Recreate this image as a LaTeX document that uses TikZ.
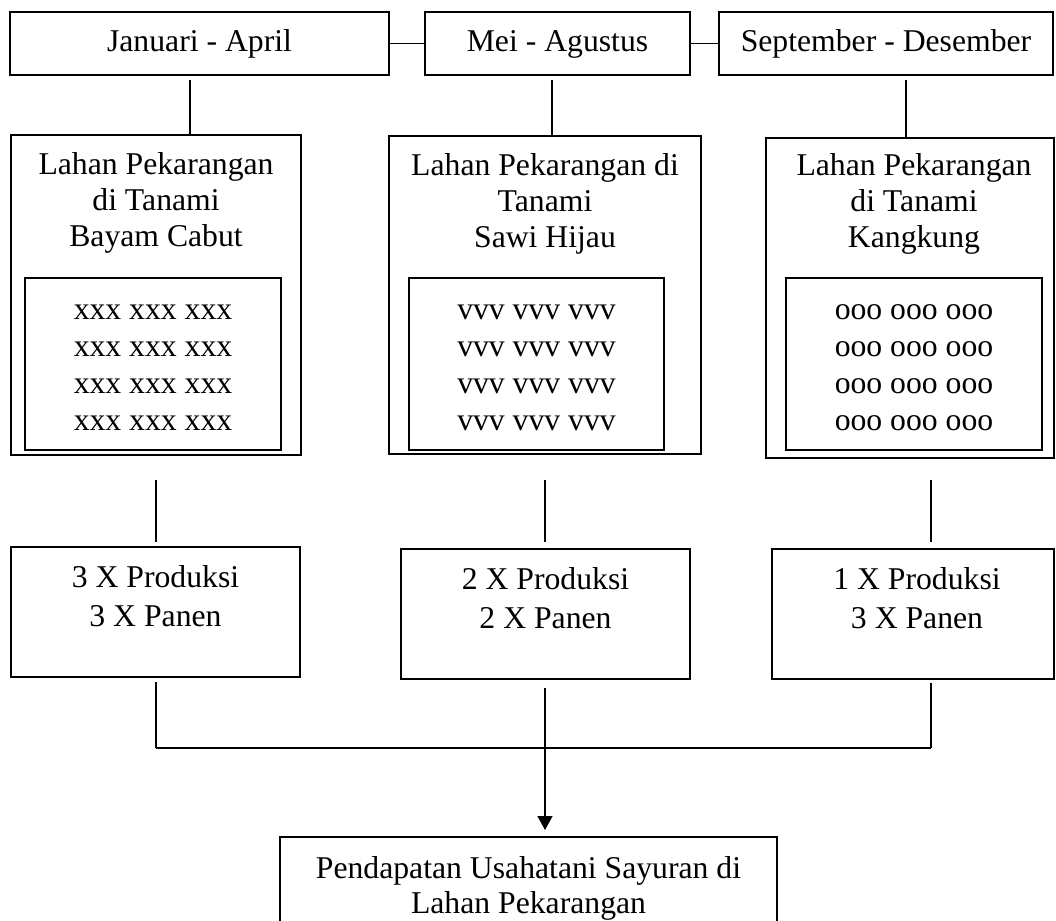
\documentclass[tikz,border=0pt]{standalone}
\usepackage{fontspec}
\setmainfont{Liberation Serif}
\usetikzlibrary{arrows.meta}

\begin{document}
\begin{tikzpicture}[x=1pt,y=-1pt,line width=1.5pt,
                    font=\fontsize{31.7}{36}\selectfont]
  \tikzstyle{box}=[rectangle,draw=black,text=black,inner sep=0pt]
  \tikzstyle{month}=[box,minimum height=63pt,text height=22pt,text depth=6pt]
  \tikzstyle{lahan}=[box,minimum width=290pt,minimum height=320pt]
  \tikzstyle{plot}=[box,minimum width=256pt,minimum height=172pt,align=center,
                    font=\fontsize{31.7}{37}\selectfont]
  \tikzstyle{hasil}=[box,minimum width=289pt,minimum height=130pt]
  \tikzstyle{title}=[anchor=north,inner sep=0pt,align=center]

  \useasboundingbox (0,0) rectangle (1056,920);
  \clip (0,0) rectangle (1056,920);

  % musim tanam
  \node[month,minimum width=379pt] (jan) at (199.5,43.5) {Januari - April};
  \node[month,minimum width=265pt] (mei) at (557.5,43.5) {Mei - Agustus};
  \node[month,minimum width=334pt] (sep) at (886,43.5) {September - Desember};

  % lahan
  \node[lahan]                                   (bayam) at (156,295) {};
  \node[lahan,minimum width=312pt,minimum height=318pt] (sawi) at (545,295) {};
  \node[lahan,minimum width=288pt]               (kangkung) at (910,298) {};
  \node[title] (bayamT) at ([yshift=-18pt]bayam.north)
       {Lahan Pekarangan\\di Tanami\\Bayam Cabut};
  \node[title] (sawiT) at ([yshift=-18pt]sawi.north)
       {Lahan Pekarangan di\\Tanami\\Sawi Hijau};
  \node[title] (kangkungT) at ([yshift=-16pt,xshift=4pt]kangkung.north)
       {Lahan Pekarangan\\di Tanami\\Kangkung};
  \node[plot]                    (bayamP) at (153,364)
       {\rule{0pt}{22pt}xxx xxx xxx\\xxx xxx xxx\\xxx xxx xxx\\xxx xxx xxx};
  \node[plot,minimum width=255pt] (sawiP) at (536.5,364)
       {\rule{0pt}{22pt}vvv vvv vvv\\vvv vvv vvv\\vvv vvv vvv\\vvv vvv vvv};
  \node[plot]                    (kangkungP) at (914,364)
       {\rule{0pt}{22pt}ooo ooo ooo\\ooo ooo ooo\\ooo ooo ooo\\ooo ooo ooo};

  % produksi
  \node[hasil]                   (p1) at (155.5,612) {};
  \node[hasil]                   (p2) at (545.5,614) {};
  \node[hasil,minimum width=282pt] (p3) at (913,614) {};
  \node[title,font=\fontsize{31.7}{39}\selectfont] (p1T) at ([yshift=-18pt]p1.north)
       {3 X Produksi\\3 X Panen};
  \node[title,font=\fontsize{31.7}{39}\selectfont] (p2T) at ([yshift=-18pt]p2.north)
       {2 X Produksi\\2 X Panen};
  \node[title,font=\fontsize{31.7}{39}\selectfont] (p3T) at ([yshift=-18pt,xshift=4pt]p3.north)
       {1 X Produksi\\3 X Panen};

  % pendapatan
  \node[box,minimum width=497pt,minimum height=120pt,anchor=north] (income) at (528.5,836) {};
  \node[title,font=\fontsize{31.7}{35}\selectfont] (incomeT) at ([yshift=-20pt]income.north)
       {Pendapatan Usahatani Sayuran di\\Lahan Pekarangan};

  \coordinate (t1) at (190,80);
  \coordinate (t2) at (552,80);
  \coordinate (t3) at (906,80);
  \coordinate (m1) at (156,480);
  \coordinate (m2) at (545,480);
  \coordinate (m3) at (931,480);
  \coordinate (b1) at (156,682);
  \coordinate (b2) at (545,688);
  \coordinate (b3) at (931,683);
  \coordinate (j1) at (156,748);
  \coordinate (j2) at (545,748);
  \coordinate (j3) at (931,748);

  \path (jan) edge (mei)
        (mei) edge (sep)
        (t1) edge (t1 |- bayam.north)
        (t2) edge (t2 |- sawi.north)
        (t3) edge (t3 |- kangkung.north)
        (m1) edge ++(0,62)
        (m2) edge ++(0,62)
        (m3) edge ++(0,62)
        (b1) edge (j1)
        (b2) edge (j2)
        (b3) edge (j3)
        (j1) edge (j3);
  \draw[-{Triangle[width=15pt,length=14pt]},shorten >=6pt] (j2) -- (j2 |- income.north);
\end{tikzpicture}
\end{document}
